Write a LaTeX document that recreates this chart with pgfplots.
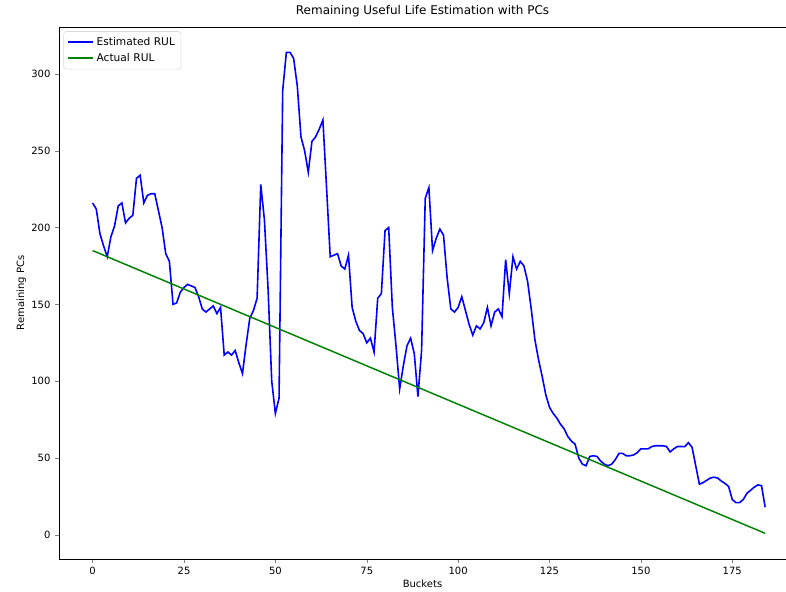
\documentclass[border=0pt]{standalone}
\usepackage{fontspec}
\setmainfont{DejaVu Sans}
\usepackage{pgfplots}
\pgfplotsset{compat=1.18}
\usetikzlibrary{calc}
\definecolor{mplgreen}{RGB}{0,128,0}
\begin{document}
\begin{tikzpicture}
\begin{axis}[
  name=ax,
  scale only axis,
  width=545.25pt, height=399pt,
  xmin=-9.2, xmax=189.7,
  ymin=-15.7, ymax=330.5,
  axis lines*=left,
  xtick={0,25,50,75,100,125,150,175},
  ytick={0,50,100,150,200,250,300},
  tick align=outside,
  xtick pos=bottom, ytick pos=left,
  major tick length=2.9pt,
  /pgf/number format/assume math mode=true,
  tick label style={font=\fontsize{7.5}{9}\selectfont},
  label style={font=\fontsize{7.5}{9}\selectfont},
  title style={font=\fontsize{9}{11}\selectfont, yshift=-2pt},
  title={Remaining Useful Life Estimation with PCs},
  xlabel={Buckets}, ylabel={Remaining PCs},
  xlabel style={yshift=3pt},
  ylabel style={yshift=-3pt},
  axis line style={line width=0.6pt, -},
  legend style={at={(0.006,0.992)}, anchor=north west, draw=black!15, rounded corners=2pt,
    font=\fontsize{8}{9.5}\selectfont, row sep=0pt, inner sep=2.5pt},
  legend cell align=left,
  legend image code/.code={\draw[#1, line width=1.4pt] (0cm,0.3pt) -- (0.66cm,0.3pt);},
]
\addplot[blue, line width=1.2pt] coordinates {
(0,216)(1,212)(2,196)(3,188)(4,181)(5,194)(6,201)(7,214)(8,216)(9,203)
(10,206)(11,208)(12,232)(13,234)(14,216)(15,221)(16,222)(17,222)(18,211)(19,200)
(20,183)(21,178)(22,150)(23,151)(24,158)(25,161)(26,163)(27,162)(28,161)(29,155)
(30,147)(31,145)(32,147)(33,149)(34,144)(35,148)(36,117)(37,119)(38,117)(39,120)
(40,112)(41,105)(42,124)(43,141)(44,146)(45,154)(46,228)(47,205)(48,160)(49,100)
(50,79)(51,89)(52,289)(53,314)(54,314)(55,310)(56,292)(57,259)(58,250)(59,236)
(60,256)(61,259)(62,264)(63,270)(64,226)(65,181)(66,182)(67,183)(68,175)(69,173)
(70,182)(71,148)(72,139)(73,133)(74,131)(75,125)(76,128)(77,119)(78,154)(79,157)
(80,198)(81,200)(82,148)(83,123)(84,95)(85,110)(86,123)(87,128)(88,118)(89,90)
(90,120)(91,219)(92,226)(93,185)(94,193)(95,199)(96,195)(97,167)(98,147)(99,145)
(100,148)(101,155)(102,146)(103,137)(104,130)(105,136)(106,134)(107,138)(108,148)(109,136)
(110,145)(111,147)(112,142)(113,179)(114,157)(115,181)(116,173)(117,178)(118,175)(119,165)
(120,147)(121,127)(122,114)(123,103)(124,91)(125,83)(126,79)(127,76)(128,72)(129,69)
(130,64)(131,61)(132,59)(133,50)(134,46)(135,45)(136,51)(137,51.5)(138,51)(139,48)
(140,46)(141,45)(142,46)(143,49)(144,53)(145,53)(146,51.5)(147,51.5)(148,52)(149,53.5)
(150,56)(151,56)(152,56)(153,57.5)(154,58)(155,58)(156,58)(157,57.5)(158,54)(159,56)
(160,57.5)(161,57.5)(162,57.4)(163,60)(164,57)(165,45)(166,33)(167,34)(168,35.5)(169,37)
(170,37.5)(171,37)(172,35)(173,33.5)(174,31.5)(175,23)(176,21)(177,21)(178,23)(179,27)
(180,29)(181,31)(182,32.5)(183,32)(184,18)
};
\addlegendentry{Estimated RUL}
\addplot[mplgreen, line width=1.1pt] coordinates {(0,185)(184,1)};
\addlegendentry{Actual RUL}
\end{axis}
\draw[line width=0.6pt] (ax.north west) -- (ax.north east);
\pgfresetboundingbox
\path[use as bounding box] ($(ax.south west)+(-44.25pt,-24.75pt)$) rectangle ($(ax.north east)+(0pt,20.25pt)$);
\end{tikzpicture}
\end{document}
